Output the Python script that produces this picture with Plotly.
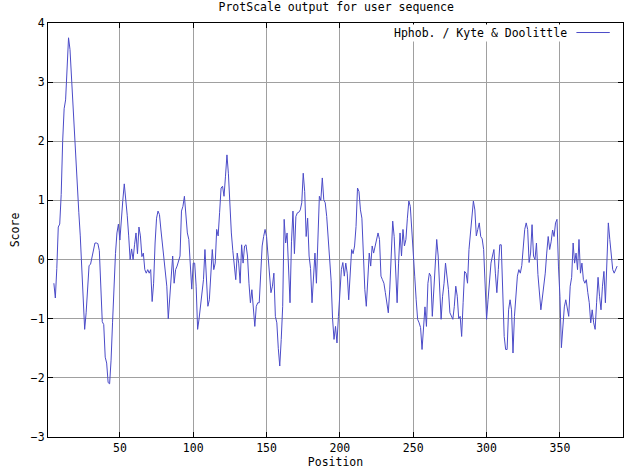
import plotly.graph_objects as go

start_position = 5
scores = [
    # 5-14
    -0.40, -0.65, -0.15, 0.55, 0.60, 1.10, 2.00, 2.55, 2.70, 3.35,
    # 15-24
    3.75, 3.55, 3.05, 2.60, 2.20, 1.70, 1.20, 0.80, 0.40, -0.15,
    # 25-34
    -0.75, -1.18, -0.90, -0.55, -0.10, -0.08, 0.05, 0.20, 0.28, 0.28,
    # 35-44
    0.27, 0.15, -0.35, -1.05, -1.10, -1.65, -1.75, -2.08, -2.10, -1.70,
    # 45-54
    -1.07, -0.35, 0.10, 0.45, 0.60, 0.33, 0.72, 1.00, 1.28, 1.07,
    # 55-64
    0.75, 0.40, 0.00, 0.18, 0.00, 0.25, 0.45, 0.10, 0.55, 0.40,
    # 65-74
    0.05, 0.11, -0.17, -0.23, -0.17, -0.23, -0.17, -0.71, -0.40, 0.28,
    # 75-84
    0.70, 0.82, 0.76, 0.50, 0.28, 0.00, -0.17, -0.45, -1.00, -0.62,
    # 85-94
    -0.23, 0.06, -0.40, -0.17, -0.11, -0.03, 0.06, 0.82, 0.90, 1.07,
    # 95-104
    0.68, 0.45, 0.34, -0.20, -0.50, -0.06, -0.06, -0.45, -1.18, -1.00,
    # 105-114
    -0.76, -0.55, -0.34, 0.17, -0.35, -0.79, -0.68, -0.17, 0.17, -0.17,
    # 115-124
    -0.06, 0.51, 0.40, 0.80, 1.21, 1.24, 1.07, 1.41, 1.77, 1.45,
    # 125-134
    0.90, 0.45, 0.15, -0.06, -0.34, 0.11, -0.06, -0.40, 0.25, -0.06,
    # 135-144
    0.23, 0.25, 0.06, -0.40, -0.73, -0.51, -0.85, -1.13, -0.79, -0.73,
    # 145-154
    -0.73, -0.34, 0.23, 0.39, 0.51, 0.39, 0.06, -0.34, -0.56, -0.45,
    # 155-164
    -0.23, -0.96, -1.07, -1.50, -1.80, -1.35, -0.79, 0.68, 0.28, 0.45,
    # 165-174
    -0.34, -0.73, 0.30, 0.82, 0.10, 0.73, 0.79, 0.80, 0.84, 0.96,
    # 175-184
    1.46, 1.15, 0.39, 0.70, 0.06, -0.15, -0.73, -0.28, 0.11, -0.40,
    # 185-194
    0.30, 1.07, 1.00, 1.38, 1.01, 0.96, 0.73, 0.34, 0.10, -0.35,
    # 195-204
    -1.00, -1.35, -1.13, -1.41, -0.96, -0.56, -0.17, -0.05, -0.28, -0.06,
    # 205-214
    -0.23, -0.68, -0.17, 0.17, 0.10, 0.23, 0.56, 1.21, 1.15, 0.84,
    # 215-224
    0.70, 0.00, -0.51, -0.79, -0.28, 0.11, -0.11, 0.23, 0.11, 0.23,
    # 225-234
    0.34, 0.45, 0.34, -0.28, -0.34, -0.40, -0.56, -0.73, -0.90, -0.50,
    # 235-244
    0.17, 0.65, 0.39, -0.06, -0.73, -0.06, 0.45, 0.06, 0.51, 0.23,
    # 245-254
    0.34, 0.70, 0.99, 0.90, 0.56, 0.17, -0.28, -0.68, -1.01, -1.07,
    # 255-264
    -1.15, -1.52, -1.18, -0.80, -1.13, -0.40, -0.23, -0.28, -0.96, -0.51,
    # 265-274
    -0.06, 0.34, 0.06, -0.45, -1.01, -0.62, -0.40, -0.06, -0.28, -0.51,
    # 275-284
    -0.90, -0.96, -1.01, -0.79, -0.45, -0.62, -1.00, -0.96, -1.30, -0.73,
    # 285-294
    -0.20, -0.23, -0.40, 0.17, 0.45, 0.73, 0.99, 0.84, 0.40, 0.51,
    # 295-304
    0.62, 0.39, 0.35, 0.17, -0.45, -1.01, -0.68, -0.40, -0.06, 0.06,
    # 305-314
    0.17, -0.23, -0.56, -0.17, 0.25, 0.25, -0.60, -1.30, -1.52, -1.52,
    # 315-324
    -0.85, -0.68, -0.85, -1.58, -0.96, -0.51, -0.28, -0.17, -0.23, -0.10,
    # 325-334
    0.17, 0.51, 0.62, 0.51, -0.05, 0.11, 0.59, 0.06, 0.00, 0.28,
    # 335-344
    -0.25, -0.56, -0.85, -0.65, -0.45, -0.23, 0.11, 0.39, 0.17, 0.30,
    # 345-354
    0.50, 0.39, 0.62, 0.68, -0.11, -0.62, -1.49, -1.13, -0.80, -0.68,
    # 355-364
    -0.85, -0.96, -0.45, -0.30, 0.28, -0.06, 0.11, -0.17, 0.34, -0.23,
    # 365-374
    -0.06, -0.34, -0.40, -0.34, -0.56, -0.73, -1.07, -0.85, -1.07, -1.18,
    # 375-384
    -0.73, -0.30, -0.62, -0.85, -0.45, -0.20, -0.73, -0.06, 0.62, 0.34,
    # 385-389
    0.00, -0.17, -0.23, -0.15, -0.11,
]
positions = list(range(start_position, start_position + len(scores)))

title_text = "ProtScale output for user sequence"
series_name = "Hphob. / Kyte & Doolittle"
x_title = "Position"
y_title = "Score"
x_range = [1, 393]
y_range = [-3, 4]

FONT = "DejaVu Sans Mono"
FSIZE = 11.5
LINE_COLOR = "rgb(75,75,200)"
GRID_COLOR = "rgb(160,160,160)"

fig = go.Figure()
fig.add_trace(go.Scatter(
    x=positions, y=scores, mode="lines",
    line=dict(color=LINE_COLOR, width=1),
    name=series_name, showlegend=False, hoverinfo="skip",
))

axis_common = dict(
    showline=True, linecolor="black", linewidth=1, mirror="ticks",
    ticks="inside", ticklen=5, tickcolor="black", tickwidth=1,
    showgrid=True, gridcolor=GRID_COLOR, gridwidth=1,
    zeroline=False, automargin=False,
    tickfont=dict(family=FONT, size=FSIZE, color="black"),
    title_font=dict(family=FONT, size=FSIZE, color="black"),
)

fig.update_xaxes(range=x_range, tick0=0, dtick=50, title_text=x_title,
                 title_standoff=4, **axis_common)
fig.update_yaxes(range=y_range, tick0=0, dtick=1, title_text=y_title,
                 title_standoff=8, **axis_common)

fig.update_layout(
    width=632, height=473,
    margin=dict(l=48, r=9, t=23, b=36, autoexpand=False),
    paper_bgcolor="white", plot_bgcolor="white",
    font=dict(family=FONT, size=FSIZE, color="black"),
    title=dict(text=title_text, x=0.532, xanchor="center",
               y=1 - 7 / 473, yanchor="middle", yref="container",
               automargin=False,
               font=dict(family=FONT, size=FSIZE, color="black")),
)

# key (text then line sample, as in gnuplot)
fig.add_annotation(
    text=series_name, xref="paper", yref="paper",
    x=0.9056, y=0.977, xanchor="right", yanchor="middle",
    showarrow=False, bgcolor="white",
    font=dict(family=FONT, size=FSIZE, color="black"),
)
fig.add_shape(type="line", xref="paper", yref="paper",
              x0=0.919, x1=0.977, y0=0.977, y1=0.977,
              line=dict(color=LINE_COLOR, width=1))

fig.write_html(
    "out.html",
    config={"displayModeBar": False},
    post_script="document.body.style.margin='0';document.body.style.overflow='hidden';",
)
